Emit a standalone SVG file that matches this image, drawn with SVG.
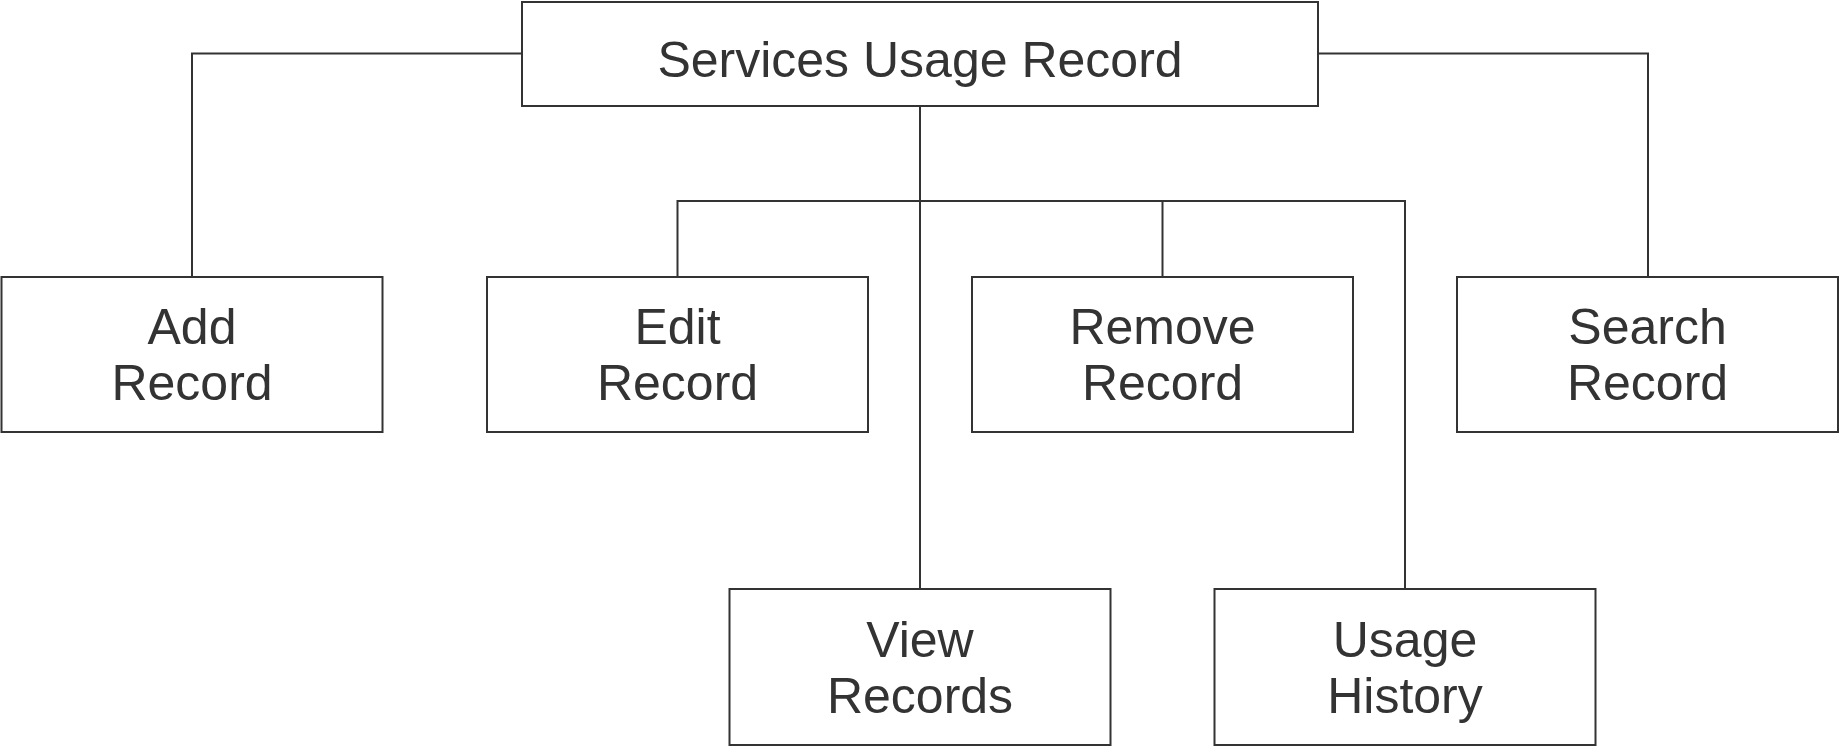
<svg xmlns="http://www.w3.org/2000/svg" width="1840" height="747" viewBox="0 0 1840 747">
<style>
.box{fill:#ffffff;stroke:#333333;stroke-width:2}
.conn{fill:none;stroke:#333333;stroke-width:2}
.t{font-family:"Liberation Sans",Arial,sans-serif;font-size:50px;fill:#333333;text-anchor:middle}
</style>
<rect width="1840" height="747" fill="#ffffff"/>
<g id="connectors">
<path class="conn" d="M522,53.5 H192 V277"/>
<path class="conn" d="M1318,53.5 H1648 V277"/>
<path class="conn" d="M920,106 V589"/>
<path class="conn" d="M677.5,277 V201 H1405 V589"/>
<path class="conn" d="M1162.5,201 V277"/>
</g>
<g id="root">
<rect class="box" x="522" y="2" width="796" height="104"/>
<text class="t" x="920" y="77">Services Usage Record</text>
</g>
<g id="add">
<rect class="box" x="1.5" y="277" width="381" height="155"/>
<text class="t" x="192" y="343.5">Add</text>
<text class="t" x="192" y="400">Record</text>
</g>
<g id="edit">
<rect class="box" x="487" y="277" width="381" height="155"/>
<text class="t" x="677.5" y="343.5">Edit</text>
<text class="t" x="677.5" y="400">Record</text>
</g>
<g id="remove">
<rect class="box" x="972" y="277" width="381" height="155"/>
<text class="t" x="1162.5" y="343.5">Remove</text>
<text class="t" x="1162.5" y="400">Record</text>
</g>
<g id="search">
<rect class="box" x="1457" y="277" width="381" height="155"/>
<text class="t" x="1647.5" y="343.5">Search</text>
<text class="t" x="1647.5" y="400">Record</text>
</g>
<g id="view">
<rect class="box" x="729.5" y="589" width="381" height="156"/>
<text class="t" x="920" y="657">View</text>
<text class="t" x="920" y="713">Records</text>
</g>
<g id="usage">
<rect class="box" x="1214.5" y="589" width="381" height="156"/>
<text class="t" x="1405" y="657">Usage</text>
<text class="t" x="1405" y="713">History</text>
</g>
</svg>
